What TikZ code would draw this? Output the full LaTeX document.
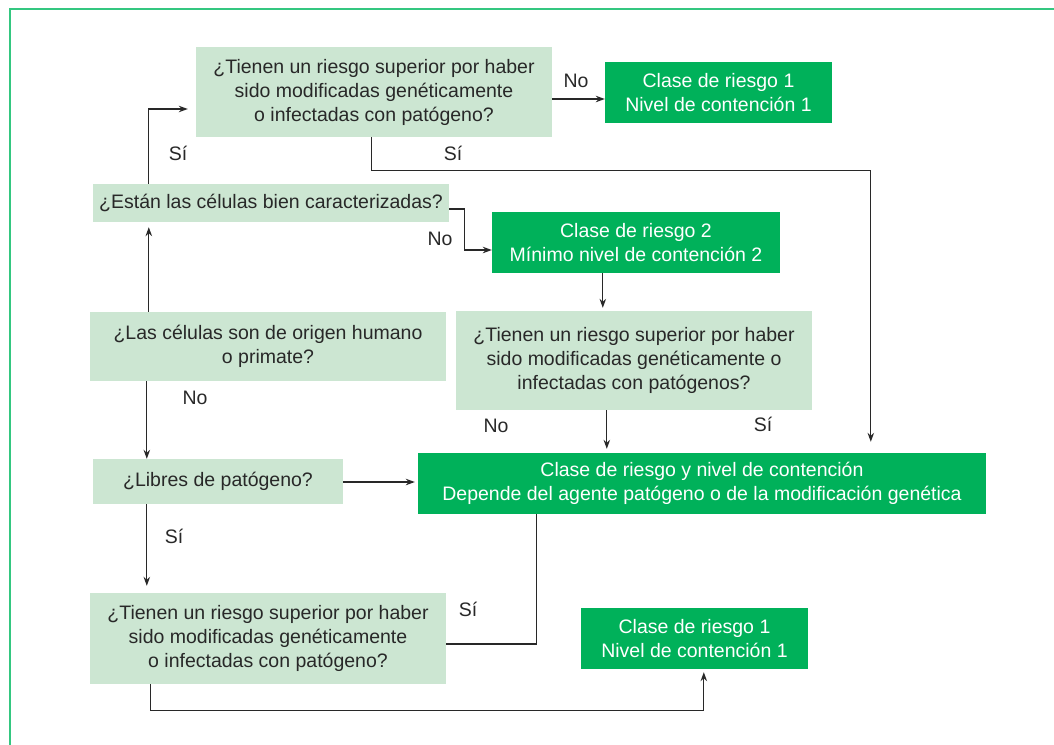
\documentclass[tikz,border=0pt]{standalone}
\usepackage{fontspec}
\setmainfont{Liberation Sans}
\usetikzlibrary{arrows.meta,calc}
\definecolor{lgreen}{RGB}{204,230,210}
\definecolor{dgreen}{RGB}{0,177,90}
\definecolor{framegreen}{RGB}{52,199,128}
\definecolor{ink}{RGB}{40,40,40}
\newcommand{\boxfont}{\fontsize{19.5}{24}\selectfont}
\tikzset{
  qbox/.style={fill=lgreen, text=ink, align=center, inner sep=0pt, font=\boxfont},
  rbox/.style={fill=dgreen, text=white, align=center, inner sep=0pt, font=\boxfont},
  lbl/.style={text=ink, inner sep=0pt, font=\boxfont},
  conn/.style={draw=ink, line width=1.1pt},
  arr/.style={conn, -{Stealth[length=9pt,width=6.5pt]}},
}
\begin{document}
\begin{tikzpicture}[x=1pt,y=-1pt]
\useasboundingbox (0,0) rectangle (1054,744);
% frame
\draw[framegreen, line width=1.6pt] (10,750) -- (10,9) -- (1060,9);

% nodes
\node[qbox, minimum width=356pt, minimum height=90pt] (A) at (374,92)
  {¿Tienen un riesgo superior por haber\\sido modificadas genéticamente\\o infectadas con patógeno?};
\node[rbox, minimum width=227pt, minimum height=61pt] (C1t) at (718.5,92.5)
  {Clase de riesgo 1\\Nivel de contención 1};
\node[qbox, minimum width=356pt, minimum height=38pt] (Est) at (271,203)
  {¿Están las células bien caracterizadas?};
\node[rbox, minimum width=288pt, minimum height=61pt] (C2) at (636,242.5)
  {Clase de riesgo 2\\Mínimo nivel de contención 2};
\node[qbox, minimum width=356pt, minimum height=69pt] (B5) at (268,346.5)
  {¿Las células son de origen humano\\o primate?};
\node[qbox, minimum width=356pt, minimum height=99pt] (B6) at (634,360.5)
  {¿Tienen un riesgo superior por haber\\sido modificadas genéticamente o\\infectadas con patógenos?};
\node[rbox, minimum width=568pt, minimum height=61pt] (Big) at (702,483.5)
  {Clase de riesgo y nivel de contención\\Depende del agente patógeno o de la modificación genética};
\node[qbox, minimum width=250pt, minimum height=45pt] (Lib) at (218,481.5)
  {¿Libres de patógeno?};
\node[qbox, minimum width=356pt, minimum height=91pt] (B7) at (268,638.5)
  {¿Tienen un riesgo superior por haber\\sido modificadas genéticamente\\o infectadas con patógeno?};
\node[rbox, minimum width=227pt, minimum height=61pt] (C1b) at (694.5,638.5)
  {Clase de riesgo 1\\Nivel de contención 1};

% connectors
\draw[arr] ($(B5.north west)+(59,0)$) -- ($(Est.south west)+(56,5)$);
\draw[arr] ($(Est.north west)+(56,0)$) |- ($(A.west)+(-8,17)$);
\draw[arr] ($(A.east)+(0,7)$) -- ($(C1t.west)+(0,6.5)$);
\draw[arr] ($(A.south west)+(176,0)$) -- ++(0,33) -| ($(Big.north west)+(453,-11)$);
\draw[arr] ($(Est.east)+(0,6)$) -- ++(15.5,0) |- ($(C2.west)+(0,7.5)$);
\draw[arr] ($(C2.south west)+(111,0)$) -- ($(B6.north west)+(147,-3)$);
\draw[arr] ($(B6.south west)+(151,0)$) -- ($(Big.north west)+(189,-4)$);
\draw[arr] ($(B5.south west)+(57,0)$) -- ($(Lib.north west)+(54,0)$);
\draw[arr] ($(Lib.east)+(0,0.5)$) -- ($(Big.west)+(-3,-1.5)$);
\draw[arr] ($(Lib.south west)+(54,0)$) -- ($(B7.north west)+(57,-7)$);
\draw[conn] ($(B7.east)+(0,5.5)$) -| ($(Big.south west)+(119,0)$);
\draw[arr] ($(B7.south west)+(61,0)$) -- ++(0,26) -| ($(C1b.south west)+(123,3)$);

% labels
\node[lbl] (l1) at (576,81) {No};
\node[lbl] (l2) at (453,153) {Sí};
\node[lbl] (l3) at (178,153) {Sí};
\node[lbl] (l4) at (440,239) {No};
\node[lbl] (l5) at (195,398) {No};
\node[lbl] (l6) at (496,426) {No};
\node[lbl] (l7) at (763,424) {Sí};
\node[lbl] (l8) at (174,536) {Sí};
\node[lbl] (l9) at (468,609) {Sí};
\end{tikzpicture}
\end{document}
